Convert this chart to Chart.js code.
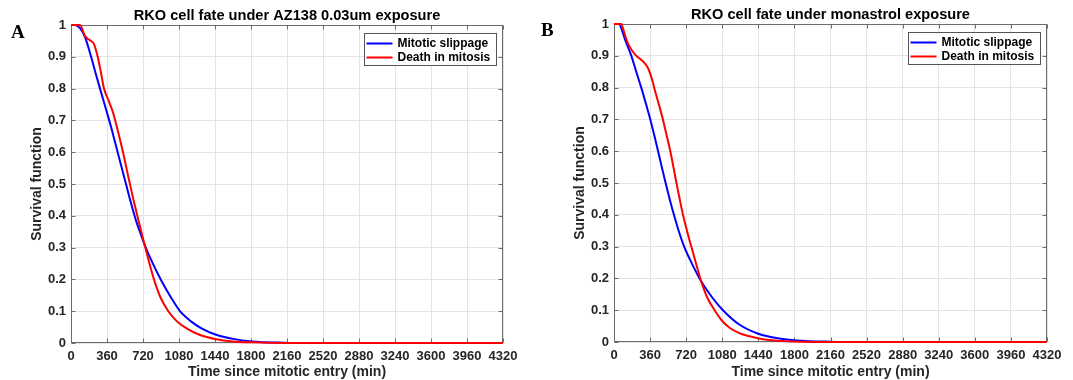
<!DOCTYPE html>
<html>
<head>
<meta charset="utf-8">
<script src="https://cdn.jsdelivr.net/npm/chart.js@4.4.0/dist/chart.umd.min.js"></script>
<style>
  html, body { margin: 0; padding: 0; background: #fff; }
  #page { position: relative; width: 1073px; height: 380px; overflow: hidden; }
  .panel { position: absolute; top: 0; height: 380px; }
  #panelA { left: 0; width: 536px; }
  #panelB { left: 536px; width: 537px; }
  .letter { position: absolute; font-family: 'Liberation Serif', 'Times New Roman', serif; font-weight: bold; font-size: 19px; line-height: 19px; color: #000; }
</style>
</head>
<body>
<div id="page">
  <div class="panel" id="panelA"><canvas id="chartA"></canvas></div>
  <div class="panel" id="panelB"><canvas id="chartB"></canvas></div>
  <div class="letter" style="left:11px; top:22px;">A</div>
  <div class="letter" style="left:541px; top:20px;">B</div>
</div>
<script>
// panel A: AZ138 0.03um
const aSlipTime = [0, 40, 90, 140, 197, 245, 290, 350, 400, 450, 500, 550, 600, 650, 700, 750, 800, 900, 1000, 1090, 1200, 1300, 1450, 1620, 1810, 2120, 2500, 4320];
const aSlipSurv = [1, 1, 0.99, 0.962, 0.905, 0.85, 0.8, 0.735, 0.68, 0.62, 0.56, 0.5, 0.44, 0.385, 0.34, 0.298, 0.262, 0.198, 0.143, 0.1, 0.068, 0.047, 0.026, 0.013, 0.005, 0.001, 0, 0];
const aDeathTime = [0, 90, 140, 190, 230, 267, 300, 330, 373, 420, 470, 520, 575, 625, 675, 727, 780, 840, 900, 973, 1060, 1160, 1290, 1450, 1620, 1810, 2160, 4320];
const aDeathSurv = [1, 1, 0.965, 0.952, 0.94, 0.9, 0.85, 0.8, 0.765, 0.725, 0.665, 0.6, 0.52, 0.45, 0.385, 0.32, 0.255, 0.19, 0.14, 0.1, 0.068, 0.045, 0.025, 0.012, 0.005, 0.002, 0, 0];

// panel B: monastrol
const bSlipTime = [0, 50, 80, 106, 173, 222, 272, 318, 362, 402, 440, 477, 515, 555, 598, 645, 700, 780, 871, 980, 1087, 1250, 1440, 1650, 1820, 2150, 2500, 4320];
const bSlipSurv = [1, 1, 0.98, 0.955, 0.9, 0.85, 0.8, 0.75, 0.7, 0.65, 0.6, 0.55, 0.5, 0.45, 0.4, 0.35, 0.3, 0.245, 0.19, 0.14, 0.1, 0.055, 0.026, 0.011, 0.005, 0.001, 0, 0];
const bDeathTime = [0, 73, 100, 123, 150, 190, 230, 270, 306, 335, 360, 385, 405, 445, 488, 525, 562, 593, 623, 655, 688, 728, 771, 820, 871, 930, 1004, 1080, 1153, 1250, 1353, 1486, 1685, 2100, 4320];
const bDeathSurv = [1, 1, 0.975, 0.952, 0.932, 0.912, 0.898, 0.888, 0.877, 0.864, 0.845, 0.82, 0.795, 0.75, 0.7, 0.65, 0.6, 0.55, 0.5, 0.45, 0.4, 0.35, 0.3, 0.245, 0.19, 0.14, 0.1, 0.066, 0.045, 0.028, 0.018, 0.009, 0.003, 0, 0];

const seriesNames = ['Mitotic slippage', 'Death in mitosis'];
const titles = ['RKO cell fate under AZ138 0.03um exposure', 'RKO cell fate under monastrol exposure'];
const xTitle = 'Time since mitotic entry (min)';
const yTitle = 'Survival function';
const xMax = 4320;
const xStep = 360;

const FONT = "'Liberation Sans', Arial, Helvetica, sans-serif";
Chart.defaults.font.family = FONT;
Chart.defaults.color = '#262626';

function toPoints(xs, ys) {
    return xs.map((x, i) => ({ x: x, y: ys[i] }));
}

// axes box with inward tick marks on all four sides
const axisBox = {
    id: 'axisBox',
    beforeDatasetsDraw(chart) {
        const { left, right, top, bottom } = chart.chartArea;
        const g = chart.ctx;
        const L = Math.round(left) + 0.5, R = Math.round(right) - 0.5;
        const T = Math.round(top) + 0.5, B = Math.round(bottom) - 0.5;
        g.save();
        g.strokeStyle = '#6b6b6b';
        g.lineWidth = 1;
        g.strokeRect(L, T, R - L, B - T);
        g.beginPath();
        chart.scales.x.ticks.forEach(t => {
            const px = Math.round(chart.scales.x.getPixelForValue(t.value)) + 0.5;
            g.moveTo(px, B); g.lineTo(px, B - 4);
            g.moveTo(px, T); g.lineTo(px, T + 4);
        });
        chart.scales.y.ticks.forEach(t => {
            const py = Math.round(chart.scales.y.getPixelForValue(t.value)) + 0.5;
            g.moveTo(L, py); g.lineTo(L + 4, py);
            g.moveTo(R, py); g.lineTo(R - 4, py);
        });
        g.stroke();
        g.restore();
    }
};

// boxed legend in the top right corner of the plot
const boxLegend = {
    id: 'boxLegend',
    afterDatasetsDraw(chart) {
        const ca = chart.chartArea;
        const g = chart.ctx;
        const sets = chart.data.datasets;
        g.save();
        g.font = 'bold 12px ' + FONT;
        let tw = 0;
        sets.forEach(d => { tw = Math.max(tw, g.measureText(d.label).width); });
        const w = Math.round(33 + tw + 6);
        const h = 32;
        const x0 = Math.round(ca.right - 7 - w) + 0.5;
        const y0 = Math.round(ca.top + 8) + 0.5;
        g.fillStyle = '#fff';
        g.fillRect(x0, y0, w, h);
        g.strokeStyle = '#555';
        g.lineWidth = 1;
        g.strokeRect(x0, y0, w, h);
        sets.forEach((d, i) => {
            const cy = y0 + 10 + i * 14;
            g.strokeStyle = d.borderColor;
            g.lineWidth = 2;
            g.beginPath();
            g.moveTo(x0 + 2, cy);
            g.lineTo(x0 + 28, cy);
            g.stroke();
            g.fillStyle = '#000';
            g.textAlign = 'left';
            g.textBaseline = 'middle';
            g.fillText(d.label, x0 + 33, cy + 0.5);
        });
        g.restore();
    }
};

function buildChart(canvasId, titleText, slip, death, geo) {
    return new Chart(document.getElementById(canvasId), {
        type: 'line',
        data: {
            datasets: [{
                label: seriesNames[0],
                data: toPoints(slip[0], slip[1]),
                borderColor: '#0000ff',
                borderWidth: 2,
                pointRadius: 0,
                fill: false,
                cubicInterpolationMode: 'monotone',
                clip: 2,
                order: 2
            }, {
                label: seriesNames[1],
                data: toPoints(death[0], death[1]),
                borderColor: '#ff0000',
                borderWidth: 2,
                pointRadius: 0,
                fill: false,
                cubicInterpolationMode: 'monotone',
                clip: 2,
                order: 1
            }]
        },
        options: {
            responsive: true,
            maintainAspectRatio: false,
            animation: false,
            layout: { padding: { left: 0, right: geo.padRight, top: 0, bottom: 0 } },
            plugins: {
                legend: { display: false },
                tooltip: { enabled: false },
                title: {
                    display: true,
                    text: titleText,
                    fullSize: false,
                    color: '#000',
                    font: { size: 14.6, weight: 'bold' },
                    padding: { top: geo.titleTop, bottom: 0.5 }
                }
            },
            scales: {
                x: {
                    type: 'linear',
                    min: 0,
                    max: xMax,
                    afterFit: s => { s.height = geo.xAxisH; },
                    grid: { color: '#e4e4e4', drawTicks: false },
                    border: { display: false },
                    ticks: {
                        stepSize: xStep,
                        autoSkip: false,
                        maxRotation: 0,
                        padding: 6,
                        font: { size: 13, weight: 'bold' },
                        callback: v => String(v)
                    },
                    title: {
                        display: true,
                        text: xTitle,
                        font: { size: 14, weight: 'bold' },
                        padding: { top: 0, bottom: -1 }
                    }
                },
                y: {
                    min: 0,
                    max: 1,
                    afterFit: s => { s.width = geo.yAxisW; },
                    grid: { color: '#e4e4e4', drawTicks: false },
                    border: { display: false },
                    ticks: {
                        stepSize: 0.1,
                        padding: 5,
                        font: { size: 13, weight: 'bold' },
                        callback: v => String(Number(v.toFixed(1)))
                    },
                    title: {
                        display: true,
                        text: yTitle,
                        font: { size: 14, weight: 'bold' },
                        padding: { top: geo.yTitlePad, bottom: 0 }
                    }
                }
            }
        },
        plugins: [axisBox, boxLegend]
    });
}

buildChart('chartA', titles[0], [aSlipTime, aSlipSurv], [aDeathTime, aDeathSurv],
    { padRight: 33, titleTop: 7, xAxisH: 37, yAxisW: 71, yTitlePad: 28.6 });
buildChart('chartB', titles[1], [bSlipTime, bSlipSurv], [bDeathTime, bDeathSurv],
    { padRight: 26, titleTop: 6, xAxisH: 38, yAxisW: 78, yTitlePad: 35.6 });
</script>
</body>
</html>
